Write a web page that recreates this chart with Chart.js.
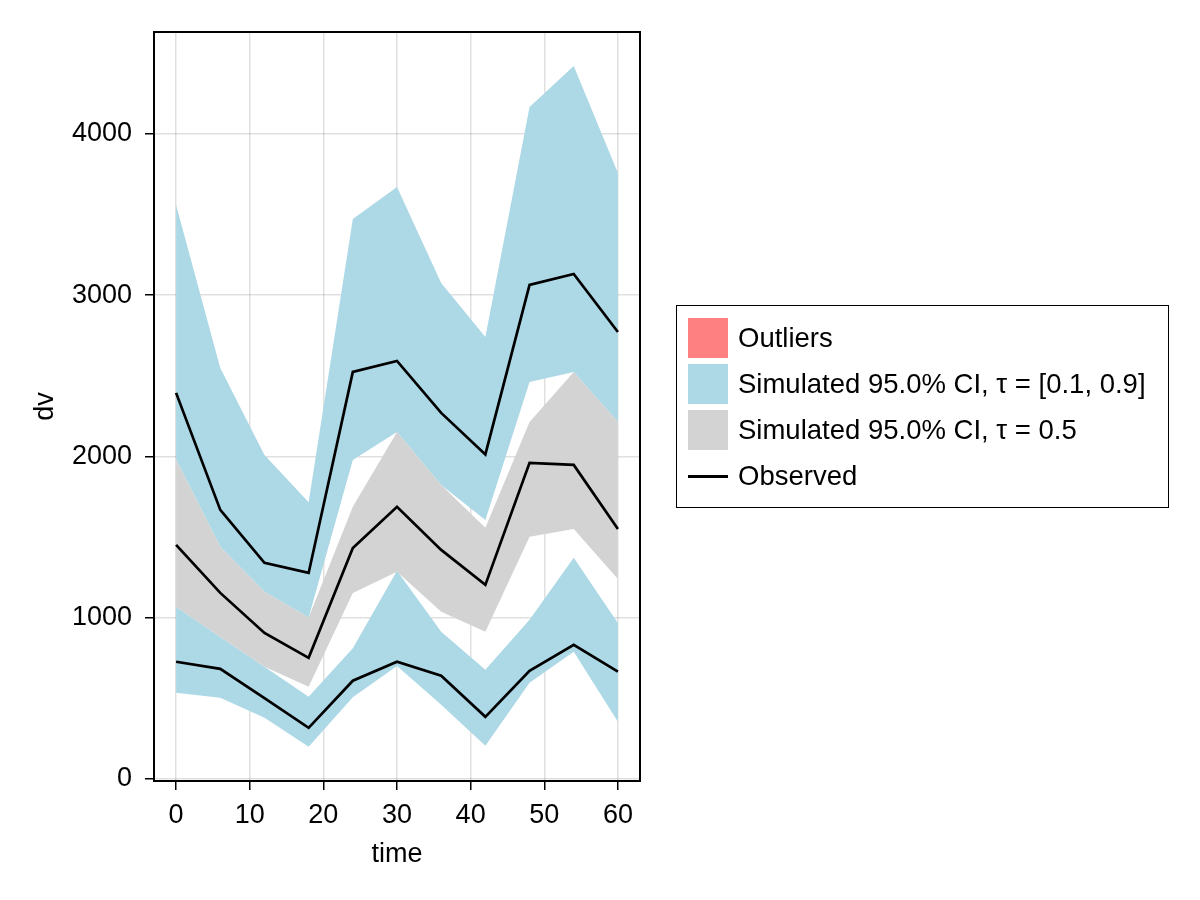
<!DOCTYPE html>
<html>
<head>
<meta charset="utf-8">
<script src="https://cdn.jsdelivr.net/npm/chart.js@4.4.1/dist/chart.umd.min.js"></script>
<style>
  body { margin: 0; background: #fff; }
  #wrap { position: relative; width: 1200px; height: 900px; }
  #legend {
    position: absolute; left: 676px; top: 305px; width: 491px; height: 201px;
    border: 1.5px solid #000; font-family: "Liberation Sans", Arial, sans-serif;
    font-size: 27.5px; color: #000;
  }
  .item { position: absolute; left: 11px; height: 40px; display: flex; align-items: center; }
  .swatch { width: 40px; height: 40px; margin-right: 10px; }
  .lineSw { width: 40px; height: 2.5px; background: #000; margin-right: 10px; }
</style>
</head>
<body>
<div id="wrap">
  <canvas id="chart" width="1200" height="900"></canvas>
  <div id="legend"></div>
</div>
<script>
// time points
const times = [0, 6, 12, 18, 24, 30, 36, 42, 48, 54, 60];

// observed quantiles
const obsHigh = [2394, 1668, 1340, 1277, 2524, 2592, 2270, 2012, 3064, 3132, 2772];
const obsMid = [1451, 1153, 905, 750, 1432, 1687, 1420, 1203, 1960, 1947, 1550];
const obsLow = [726, 682, 500, 316, 608, 726, 639, 384, 670, 831, 664];

// simulated CI, tau = 0.9
const hiBandTop = [3560, 2549, 2009, 1715, 3473, 3671, 3076, 2741, 4167, 4422, 3758];
const hiBandBottom = [1980, 1440, 1160, 1000, 1978, 2152, 1823, 1606, 2462, 2524, 2214];
// simulated CI, tau = 0.5
const midBandTop = [1980, 1440, 1160, 1000, 1687, 2152, 1823, 1557, 2214, 2524, 2214];
const midBandBottom = [1067, 880, 695, 570, 1153, 1284, 1036, 912, 1501, 1550, 1240];
// simulated CI, tau = 0.1
const loBandTop = [1067, 880, 695, 508, 810, 1290, 912, 676, 986, 1371, 967];
const loBandBottom = [533, 502, 378, 198, 505, 700, 459, 205, 595, 788, 353];

const xTicks = [0, 10, 20, 30, 40, 50, 60];
const yTicks = [0, 1000, 2000, 3000, 4000];

const legendItems = [
  { label: 'Outliers', color: '#ff8080' },
  { label: 'Simulated 95.0% CI, τ = [0.1, 0.9]', color: '#add8e6' },
  { label: 'Simulated 95.0% CI, τ = 0.5', color: '#d3d3d3' },
  { label: 'Observed', line: true }
];

const FONT = '"Liberation Sans", Arial, sans-serif';
Chart.defaults.font.family = FONT;
Chart.defaults.color = '#000';

const pts = arr => times.map((t, i) => ({ x: t, y: arr[i] }));

function line(arr) {
  return { data: pts(arr), borderColor: '#000', borderWidth: 2.7, pointRadius: 0, fill: false, order: 0 };
}
function bandEdge(arr, color, order, fill) {
  return { data: pts(arr), borderWidth: 0, borderColor: 'rgba(0,0,0,0)', backgroundColor: color,
           pointRadius: 0, fill: fill, order: order };
}

const frame = {
  id: 'frame',
  afterDraw(chart) {
    const { ctx, chartArea: a } = chart;
    ctx.save();
    ctx.strokeStyle = '#000';
    ctx.lineWidth = 2;
    ctx.strokeRect(a.left, a.top, a.right - a.left, a.bottom - a.top);
    ctx.restore();
  }
};

new Chart(document.getElementById('chart'), {
  type: 'line',
  data: {
    datasets: [
      line(obsHigh),
      line(obsMid),
      line(obsLow),
      bandEdge(midBandTop, '#d3d3d3', 1, false),
      bandEdge(midBandBottom, '#d3d3d3', 1, '-1'),
      bandEdge(hiBandTop, '#add8e6', 2, false),
      bandEdge(hiBandBottom, '#add8e6', 2, '-1'),
      bandEdge(loBandTop, '#add8e6', 2, false),
      bandEdge(loBandBottom, '#add8e6', 2, '-1')
    ]
  },
  options: {
    responsive: false,
    animation: false,
    layout: { padding: { left: 0, top: 32, right: 560, bottom: 0 } },
    plugins: { legend: { display: false }, tooltip: { enabled: false } },
    elements: { line: { tension: 0 } },
    scales: {
      x: {
        type: 'linear', min: -3, max: 63,
        afterFit: s => { s.height = 119; },
        afterBuildTicks: s => { s.ticks = xTicks.map(v => ({ value: v })); },
        grid: { color: 'rgba(0,0,0,0.12)', lineWidth: 1.5, tickLength: 9, tickColor: '#000', tickWidth: 1.5 },
        border: { display: false },
        ticks: { font: { size: 27 }, padding: 9, maxRotation: 0, autoSkip: false, callback: v => String(v) },
        title: { display: true, text: 'time', font: { size: 27 }, padding: { top: 0, bottom: 29 } }
      },
      y: {
        type: 'linear', min: -14, max: 4633,
        afterFit: s => { s.width = 154; },
        afterBuildTicks: s => { s.ticks = yTicks.map(v => ({ value: v })); },
        grid: { color: 'rgba(0,0,0,0.12)', lineWidth: 1.5, tickLength: 9, tickColor: '#000', tickWidth: 1.5 },
        border: { display: false },
        ticks: { font: { size: 27 }, padding: 13, autoSkip: false, callback: v => String(v) },
        title: { display: true, text: 'dv', font: { size: 27 }, padding: { top: 29, bottom: 0 } }
      }
    }
  },
  plugins: [frame]
});

// legend box
const leg = document.getElementById('legend');
legendItems.forEach((it, i) => {
  const row = document.createElement('div');
  row.className = 'item';
  row.style.top = (11.5 + i * 46.3) + 'px';
  const sw = document.createElement('div');
  if (it.line) { sw.className = 'lineSw'; } else { sw.className = 'swatch'; sw.style.background = it.color; }
  const tx = document.createElement('span');
  tx.textContent = it.label;
  row.appendChild(sw);
  row.appendChild(tx);
  leg.appendChild(row);
});
</script>
</body>
</html>
